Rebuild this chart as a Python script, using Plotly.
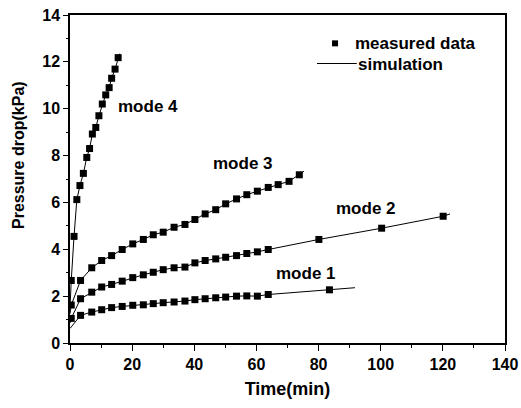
import plotly.graph_objects as go

# ---- data ----
t4 = [0.4, 1.3, 2.2, 3.2, 4.3, 5.4, 6.3, 7.2, 8.3, 9.3, 10.4, 11.5, 12.6, 13.4, 14.5, 15.5]
p4 = [2.67, 4.55, 6.12, 6.72, 7.24, 7.92, 8.30, 8.92, 9.20, 9.70, 10.20, 10.59, 10.90, 11.30, 11.69, 12.18]

t3 = [0.4, 3.4, 7.0, 10.2, 13.4, 16.8, 20.2, 23.6, 26.8, 30.0, 33.5, 37.0, 40.2, 43.5, 46.9,
      50.1, 53.6, 56.9, 60.3, 63.8, 67.0, 70.5, 73.8]
p3 = [1.62, 2.67, 3.21, 3.52, 3.73, 3.99, 4.23, 4.42, 4.62, 4.73, 4.94, 5.06, 5.27, 5.51, 5.69,
      5.94, 6.15, 6.33, 6.48, 6.64, 6.76, 6.90, 7.18]

t2 = [0.4, 3.4, 7.0, 10.2, 13.4, 16.8, 20.2, 23.6, 26.8, 30.0, 33.5, 37.0, 40.2, 43.5, 46.9,
      50.1, 53.6, 56.9, 60.3, 63.8, 80.1, 100.3, 120.1]
p2 = [1.05, 1.89, 2.17, 2.39, 2.50, 2.64, 2.79, 2.91, 3.02, 3.13, 3.21, 3.24, 3.42, 3.52, 3.59,
      3.66, 3.73, 3.82, 3.89, 3.99, 4.42, 4.90, 5.41]

t1 = [3.4, 7.0, 10.2, 13.4, 16.8, 20.2, 23.6, 26.8, 30.0, 33.5, 37.0, 40.2, 43.5, 46.9,
      50.1, 53.6, 56.9, 60.3, 63.8, 83.5]
p1 = [1.18, 1.32, 1.42, 1.51, 1.56, 1.61, 1.63, 1.68, 1.72, 1.75, 1.79, 1.85, 1.89, 1.93,
      1.96, 2.00, 2.01, 2.00, 2.07, 2.27]

# simulation curves (start and end values)
sim4_t = [0.0] + t4 + [16.0]
sim4_p = [1.5] + p4 + [12.35]
sim3_t = [0.0] + t3 + [75.3]
sim3_p = [1.25] + p3 + [7.33]
sim2_t = [0.0] + t2 + [122.3]
sim2_p = [0.85] + p2 + [5.51]
sim1_t = [0.0] + t1 + [91.7]
sim1_p = [0.62] + p1 + [2.36]

labels = ["mode 4", "mode 3", "mode 2", "mode 1"]
label_x = [25.1, 55.7, 95.3, 75.9]
label_y = [10.08, 7.65, 5.73, 2.97]

FONT = "Arial, Liberation Sans, sans-serif"

fig = go.Figure()
sims = [(sim4_t, sim4_p), (sim3_t, sim3_p), (sim2_t, sim2_p), (sim1_t, sim1_p)]
for i, (tx, py) in enumerate(sims):
    fig.add_trace(go.Scatter(x=tx, y=py, mode="lines",
                             line=dict(color="black", width=1),
                             name="simulation", showlegend=False))
meas = [(t4, p4), (t3, p3), (t2, p2), (t1, p1)]
for i, (tx, py) in enumerate(meas):
    fig.add_trace(go.Scatter(x=tx, y=py, mode="markers",
                             marker=dict(symbol="square", size=7, color="black"),
                             name="measured data", showlegend=False))

for lab, lx, ly in zip(labels, label_x, label_y):
    fig.add_annotation(x=lx, y=ly, text=lab, showarrow=False,
                       font=dict(family=FONT, size=17, color="black", weight="bold"))

# legend (drawn in data coordinates)
fig.add_trace(go.Scatter(x=[85.3], y=[12.79], mode="markers",
                         marker=dict(symbol="square", size=6, color="black"),
                         showlegend=False, cliponaxis=False))
fig.add_shape(type="line", x0=79.5, x1=92.3, y0=11.93, y1=11.93,
              line=dict(color="black", width=1))
fig.add_annotation(x=91.2, y=12.79, text="measured data", showarrow=False, xanchor="left",
                   font=dict(family=FONT, size=17, color="black", weight="bold"))
fig.add_annotation(x=92.0, y=11.9, text="simulation", showarrow=False, xanchor="left",
                   font=dict(family=FONT, size=17, color="black", weight="bold"))

# y axis title as annotation
fig.add_annotation(xref="paper", yref="paper", x=(18 - 70) / 435, y=(343 - 155) / 328,
                   xanchor="center", yanchor="middle",
                   text="Pressure drop(kPa)", textangle=-90, showarrow=False,
                   font=dict(family=FONT, size=16, color="black", weight="bold"))

fig.update_layout(
    width=521, height=408,
    margin=dict(l=70, r=16, t=15, b=65, autoexpand=False),
    paper_bgcolor="white", plot_bgcolor="white",
    showlegend=False,
    font=dict(family=FONT, color="black"),
    xaxis=dict(range=[0, 140], tickvals=[0, 20, 40, 60, 80, 100, 120, 140],
               automargin=False,
               ticks="outside", ticklen=6, tickwidth=1, tickcolor="black",
               minor=dict(dtick=10, ticks="outside", ticklen=3, tickcolor="black"),
               showline=True, linecolor="black", linewidth=1.5, mirror=True,
               showgrid=False, zeroline=False,
               tickfont=dict(family=FONT, size=16, color="black", weight="bold"),
               title=dict(text="Time(min)", standoff=10,
                          font=dict(family=FONT, size=18, color="black", weight="bold"))),
    yaxis=dict(range=[0, 14], tickvals=[0, 2, 4, 6, 8, 10, 12, 14],
               automargin=False,
               ticks="outside", ticklen=5, tickwidth=1, tickcolor="black",
               minor=dict(dtick=1, ticks="outside", ticklen=2, tickcolor="black"),
               showline=True, linecolor="black", linewidth=1.5, mirror=True,
               showgrid=False, zeroline=False,
               tickfont=dict(family=FONT, size=16, color="black", weight="bold")),
)

fig.write_html("out.html")
